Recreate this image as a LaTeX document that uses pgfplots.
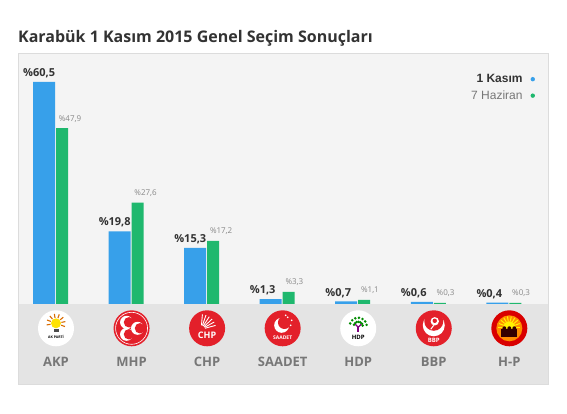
\documentclass[border=0pt]{standalone}
\usepackage{fontspec}
\usepackage{pgfplots}
\usepackage{pgfplotstable}
\pgfplotsset{compat=1.18}
\setmainfont{Open Sans}
\newfontfamily\arial{Liberation Sans}
\definecolor{kblue}{HTML}{37A0EA}
\definecolor{kgreen}{HTML}{1FB86E}
\definecolor{plotbg}{HTML}{F4F4F4}
\definecolor{bandbg}{HTML}{E4E4E4}
\definecolor{boxline}{HTML}{DCDCDC}
\definecolor{titlec}{HTML}{333333}
\definecolor{namec}{HTML}{777777}
\definecolor{smallc}{HTML}{888888}
\definecolor{lred}{HTML}{E3202A}

\pgfplotstableread{
x kas haz
0 60.5 47.9
1 19.8 27.6
2 15.3 17.2
3 1.3 3.3
4 0.7 1.1
5 0.6 0.3
6 0.4 0.3
}\datatable

\begin{document}
\begin{tikzpicture}[x=1pt,y=1pt]
\fill[white] (0,0) rectangle (567,414);
\fill[plotbg] (18,110) rectangle (548,360.7);
\fill[bandbg] (18,30) rectangle (548,110);
\draw[boxline, line width=0.8pt] (18,30) rectangle (548,360.7);
\node[anchor=base west, inner sep=0, text=titlec, font=\bfseries\fontsize{16}{19}\selectfont] at (18,371.2) {Karabük 1 Kasım 2015 Genel Seçim Sonuçları};

\begin{axis}[
  at={(18pt,110pt)}, anchor=south west,
  scale only axis, width=530pt, height=250.7pt,
  xmin=-0.503, xmax=6.512, ymin=0, ymax=68.3,
  axis line style={draw=none},
  ytick=\empty,
  xtick={0,...,6},
  xticklabels={AKP,MHP,CHP,SAADET,HDP,BBP,H-P},
  major tick length=0pt,
  xticklabel style={anchor=base, yshift=-62.7pt, inner sep=0pt, text=namec,
     font=\bfseries\fontsize{13}{15}\selectfont},
  clip=false,
  legend plot pos=right,
  legend style={draw=none, fill=none, at={(0.9758,0.925)}, anchor=north east,
     font=\arial\fontsize{12}{14}\selectfont, cells={anchor=east}, row sep=2.5pt,
     inner sep=0pt, /tikz/every odd column/.append style={column sep=6pt}},
]
\addplot[ybar, bar width=22pt, bar shift=-12pt, fill=kblue, draw=none,
  nodes near coords={\%\pgfmathprintnumber[fixed,fixed zerofill,precision=1,use comma,assume math mode=true]{\pgfplotspointmeta}},
  every node near coord/.append style={anchor=base west, xshift=-33pt, yshift=5.4pt, inner sep=0pt, text=titlec, font=\bfseries\fontsize{11}{13}\selectfont},
  legend image code/.code={\fill[kblue] (0pt,0pt) circle (2.2pt);}
] table[x=x,y=kas]{\datatable};
\addlegendentry{\textcolor{titlec}{\textbf{1 Kasım}}}
\addplot[ybar, bar width=12pt, bar shift=6pt, fill=kgreen, draw=none,
  nodes near coords={\%\pgfmathprintnumber[fixed,fixed zerofill,precision=1,use comma,assume math mode=true]{\pgfplotspointmeta}},
  every node near coord/.append style={anchor=base west, xshift=2.7pt, yshift=7.1pt, inner sep=0pt, text=smallc, font=\fontsize{8}{10}\selectfont},
  legend image code/.code={\fill[kgreen] (0pt,0pt) circle (2.2pt);}
] table[x=x,y=haz]{\datatable};
\addlegendentry{\textcolor{namec}{7 Haziran}}
\pgfplotsinvokeforeach{0,...,6}{\coordinate (p#1) at (axis cs:#1,0);}
\end{axis}

% AKP
\begin{scope}[shift={(p0)}, yshift=-24.3]
\fill[white] (0,0) circle (18);
\foreach \a in {-20,10,...,200} \draw[orange!85!black, line width=1.1] (0,5)++(\a:5.5) -- ++(\a:4);
\fill[yellow!85!orange] (0,5) circle (5);
\fill[black!70] (-2.5,-0.5) rectangle (2.5,-3.5);
\node[font=\bfseries\fontsize{3.5}{4}\selectfont, inner sep=0] at (0,-9) {AK PARTİ};
\end{scope}
% MHP
\begin{scope}[shift={(p1)}, yshift=-24.3]
\fill[lred] (0,0) circle (18);
\draw[white, line width=0.6] (0,0) circle (16);
\foreach \x/\y in {-5/6,-5/-6,6/0} {\fill[white] (\x,\y) circle (6.5); \fill[lred] (\x+2.4,\y) circle (5.2);}
\end{scope}
% CHP
\begin{scope}[shift={(p2)}, yshift=-24.3]
\fill[lred] (0,0) circle (18);
\foreach \a in {15,29,...,85} \draw[white, line width=0.9] (-6,-1)++(\a:4) -- ++(\a:11);
\node[white, font=\bfseries\fontsize{9}{9}\selectfont, inner sep=0] at (0,-7) {CHP};
\end{scope}
% SAADET
\begin{scope}[shift={(p3)}, yshift=-24.3]
\fill[lred] (0,0) circle (18);
\fill[white] (-1,3) circle (7.5);
\fill[lred] (1.8,5.8) circle (6.5);
\foreach \x/\y in {5/11,9/8,8/3,3/13} \fill[white] (\x,\y) circle (0.9);
\node[white, font=\bfseries\fontsize{5}{5}\selectfont, inner sep=0] at (0,-9) {SAADET};
\end{scope}
% HDP
\begin{scope}[shift={(p4)}, yshift=-24.3]
\fill[white] (0,0) circle (18);
\foreach \a in {10,35,...,170} {\foreach \r in {4.5,8.5} {\fill[green!55!black] (0,2)++(\a:\r) circle (1.4);}}
\fill[violet] (-1,-4) rectangle (1,2);
\draw[violet, line width=1.2] (0,1)--(-3,4) (0,1)--(3,4);
\node[font=\bfseries\fontsize{6}{6}\selectfont, inner sep=0] at (0,-9) {HDP};
\end{scope}
% BBP
\begin{scope}[shift={(p5)}, yshift=-24.3]
\fill[lred] (0,0) circle (18);
\fill[white] (0,3) circle (11);
\fill[lred] (0,7) circle (9.5);
\fill[white] (1,7) circle (4.2);
\fill[lred] (1,7.5) circle (2.2);
\draw[white, line width=1] (0,3)--(-3,-1);
\node[white, font=\bfseries\fontsize{6}{6}\selectfont, inner sep=0] at (0,-12) {BBP};
\end{scope}
% H-P
\begin{scope}[shift={(p6)}, yshift=-24.3]
\fill[red!85!black] (0,0) circle (18);
\fill[orange!90!yellow] (0,0) circle (13);
\foreach \a in {0,20,...,180} \draw[yellow, line width=1] (0,1)++(\a:6) -- ++(\a:5);
\fill[yellow] (0,1) circle (6);
\fill[black!80!red] (-8,-9) rectangle (8,-1);
\foreach \x in {-5,0,5} \fill[black!80!red] (\x,0) circle (2);
\end{scope}
\end{tikzpicture}
\end{document}
